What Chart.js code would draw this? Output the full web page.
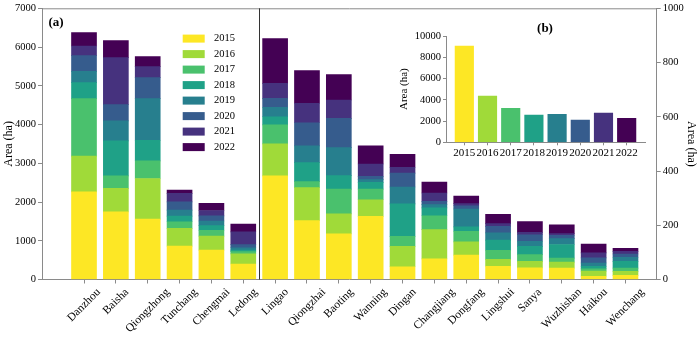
<!DOCTYPE html>
<html>
<head>
<meta charset="utf-8">
<script src="https://cdn.jsdelivr.net/npm/chart.js@4.4.1/dist/chart.umd.min.js"></script>
<style>
html,body{margin:0;padding:0;background:#fff;}
#wrap{position:relative;width:700px;height:337px;}
#main{position:absolute;left:0;top:0;}
#inset{position:absolute;left:395px;top:20px;}
</style>
</head>
<body>
<div id="wrap">
<canvas id="main" width="700" height="337"></canvas>
<canvas id="inset" width="260" height="145"></canvas>
</div>
<script>
const years=['2015','2016','2017','2018','2019','2020','2021','2022'];
const colors=['#fde725','#a0da39','#4ac16d','#1fa187','#277f8e','#365c8d','#46327e','#440154'];
// first 6 counties use the left axis, the rest the right axis
const counties=['Danzhou','Baisha','Qiongzhong','Tunchang','Chengmai','Ledong',
  'Lingao','Qiongzhai','Baoting','Wanning','Dingan','Changjiang','Dongfang','Lingshui','Sanya','Wuzhishan','Haikou','Wenchang'];
const nLeft=6;

// area (ha) per county, one array per year
const area2015=[2263,1747,1559,863,760,400, 382,217,168,233,47,76,90,49,43,42,12,15];
const area2016=[920,604,1049,457,361,260, 118,122,74,61,75,108,49,25,24,22,19,15];
const area2017=[1487,324,454,170,150,60, 70,22,91,39,37,51,39,34,25,15,8,12];
const area2018=[412,902,533,147,120,40, 30,70,50,25,120,29,16,37,30,50,10,25];
const area2019=[292,516,1075,154,120,60, 35,62,103,10,62,12,66,27,19,22,12,15];
const area2020=[404,422,541,214,130,80, 33,85,108,12,51,12,12,24,24,12,19,12];
const area2021=[248,1212,284,217,140,330, 55,72,68,46,22,31,8,10,9,6,18,10];
const area2022=[345,438,258,85,183,200, 165,120,94,67,48,40,28,34,40,33,33,11];
const areaByYear=[area2015,area2016,area2017,area2018,area2019,area2020,area2021,area2022];

// inset (b): total per year
const totalByYear=[9060,4350,3200,2570,2630,2100,2760,2260];

const FONT="'Liberation Serif','Times New Roman',serif";
const AX='#8a8a8a';

// build datasets: each year split into left-axis part and right-axis part
let datasets=[];
areaByYear.forEach((arr,k)=>{
  let leftPts=[], rightPts=[];
  arr.forEach((v,i)=>{ if(i<nLeft) leftPts.push({x:i,y:v}); else rightPts.push({x:i,y:v}); });
  datasets.push({label:years[k],data:leftPts,yAxisID:'y',backgroundColor:colors[k],stack:'s',barThickness:25});
  datasets.push({label:years[k],data:rightPts,yAxisID:'y2',backgroundColor:colors[k],stack:'s',barThickness:25});
});

// frame, separator, rotated labels, legend and panel letter
const mainDeco={
  id:'mainDeco',
  afterDraw(chart){
    let ctx=chart.ctx, a=chart.chartArea, xs=chart.scales.x;
    ctx.save();
    ctx.strokeStyle=AX; ctx.lineWidth=1;
    ctx.beginPath(); ctx.moveTo(a.left,a.top+0.5); ctx.lineTo(a.right,a.top+0.5); ctx.stroke();
    let sx=Math.round(xs.getPixelForValue(nLeft-0.5))+0.5;
    ctx.strokeStyle='#333';
    ctx.beginPath(); ctx.moveTo(sx,a.top); ctx.lineTo(sx,a.bottom); ctx.stroke();

    // x labels, rotated 45 deg, box centred under the tick
    ctx.font='11.5px '+FONT; ctx.fillStyle='#000'; ctx.textAlign='center'; ctx.textBaseline='middle';
    counties.forEach((c,i)=>{
      let L=ctx.measureText(c).width, h=11;
      let half=(L+h)/(2*Math.SQRT2);
      ctx.save();
      ctx.translate(xs.getPixelForValue(i), a.bottom+7+half);
      ctx.rotate(-Math.PI/4);
      ctx.fillText(c,0,0);
      ctx.restore();
    });

    // legend
    ctx.font='10.5px '+FONT; ctx.textAlign='left';
    years.forEach((y,k)=>{
      let cy=a.top+30.3+k*15.5;
      ctx.fillStyle=colors[k]; ctx.fillRect(a.left+140.7,cy-4,22,8);
      ctx.fillStyle='#000'; ctx.fillText(y,a.left+172,cy);
    });

    ctx.font='bold 13px '+FONT; ctx.textAlign='center';
    ctx.fillText('(a)',a.left+14,23);
    ctx.restore();
  }
};

new Chart(document.getElementById('main'),{
  type:'bar',
  data:{datasets},
  options:{
    responsive:false, animation:false,
    layout:{padding:{top:8}},
    plugins:{legend:{display:false},tooltip:{enabled:false}},
    scales:{
      x:{
        type:'linear', min:-1.319, max:17.98, stacked:true, offset:false,
        grid:{display:true,drawOnChartArea:false,offset:false,tickLength:4,color:AX},
        border:{color:AX},
        afterBuildTicks:s=>{ s.ticks=counties.map((c,i)=>({value:i})); },
        afterFit:s=>{ s.height=57.5; },
        ticks:{display:false}
      },
      y:{
        position:'left', min:0, max:7000, stacked:true,
        grid:{display:true,drawOnChartArea:false,tickLength:4,color:AX},
        border:{color:AX},
        afterFit:s=>{ s.width=42; },
        ticks:{stepSize:1000,padding:2,color:'#000',font:{family:FONT,size:10.5},callback:v=>String(v)},
        title:{display:true,text:'Area (ha)',color:'#000',padding:{top:2,bottom:0},font:{family:FONT,size:12}}
      },
      y2:{
        position:'right', min:0, max:1000, stacked:true,
        grid:{display:true,drawOnChartArea:false,tickLength:4,color:AX},
        border:{color:AX},
        afterFit:s=>{ s.width=43.3; },
        ticks:{stepSize:200,padding:2,color:'#000',font:{family:FONT,size:10.5},callback:v=>String(v)},
        title:{display:true,text:'Area (ha)',color:'#000',padding:{top:2,bottom:0},font:{family:FONT,size:12}}
      }
    }
  },
  plugins:[mainDeco]
});

// inset chart (b)
const insetDeco={
  id:'insetDeco',
  afterDraw(chart){
    let ctx=chart.ctx;
    ctx.save();
    ctx.font='bold 13px '+FONT; ctx.textAlign='center'; ctx.textBaseline='middle'; ctx.fillStyle='#000';
    ctx.fillText('(b)',150,9);
    ctx.restore();
  }
};

new Chart(document.getElementById('inset'),{
  type:'bar',
  data:{datasets:[{data:totalByYear.map((v,i)=>({x:i,y:v})),backgroundColor:colors,barThickness:18.5}]},
  options:{
    responsive:false, animation:false,
    layout:{padding:{top:16,right:10}},
    plugins:{legend:{display:false},tooltip:{enabled:false}},
    scales:{
      x:{
        type:'linear', min:-0.79, max:7.79, offset:false,
        grid:{display:true,drawOnChartArea:false,offset:false,tickLength:3,color:AX},
        border:{color:AX},
        afterBuildTicks:s=>{ s.ticks=years.map((y,i)=>({value:i})); },
        afterFit:s=>{ s.height=22.7; },
        ticks:{autoSkip:false,maxRotation:0,padding:1,color:'#000',font:{family:FONT,size:11},callback:v=>years[v]}
      },
      y:{
        min:0, max:10000,
        grid:{display:true,drawOnChartArea:false,tickLength:3,color:AX},
        border:{color:AX},
        afterFit:s=>{ s.width=51; },
        ticks:{stepSize:2000,padding:2,color:'#000',font:{family:FONT,size:10.5},callback:v=>String(v)},
        title:{display:true,text:'Area (ha)',color:'#000',padding:{top:3,bottom:0},font:{family:FONT,size:11}}
      }
    }
  },
  plugins:[insetDeco]
});
</script>
</body>
</html>
